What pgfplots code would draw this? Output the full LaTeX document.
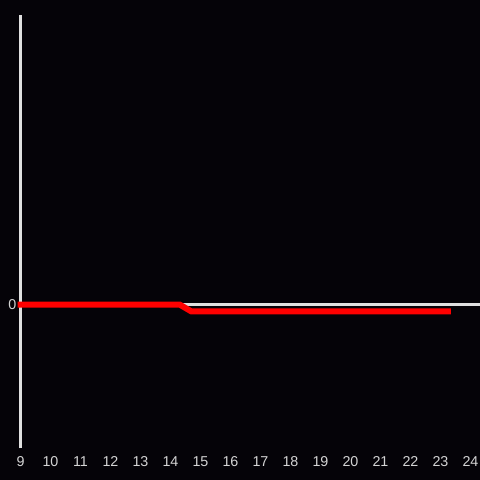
\documentclass[border=0pt]{standalone}
\usepackage{fontspec}
\setmainfont{Liberation Sans}
\usepackage{pgfplots}
\pgfplotsset{compat=1.18}
\definecolor{bgc}{RGB}{5,3,8}
\definecolor{axc}{RGB}{224,224,224}
\definecolor{txc}{RGB}{212,212,212}
\begin{document}
\begin{tikzpicture}
\fill[bgc] (0,0) rectangle (480pt,480pt);
\begin{axis}[
  at={(20.5pt,31.5pt)}, anchor=south west,
  scale only axis, width=459.5pt, height=433pt,
  xmin=9, xmax=24.317, ymin=-1, ymax=2.007,
  clip=false,
  axis x line*=bottom, x axis line style={draw=none},
  axis y line*=left, y axis line style={draw=axc, line width=3pt, -},
  xtick={9,10,...,24}, ytick={0},
  major tick length=0pt, tick style={draw=none},
  tick label style={font=\fontsize{14.3}{16}\selectfont, text=txc},
  xticklabel style={anchor=center, yshift=-13pt},
  yticklabel style={anchor=east, inner sep=0pt, xshift=-4pt},
  /pgf/number format/assume math mode=true,
]
\addplot[axc, line width=3pt] coordinates {(9,0) (24.317,0)};
\addplot[red, line width=6pt] coordinates {(8.9,0) (14.3,0) (14.7,-0.0486) (23.35,-0.0486)};
\end{axis}
\pgfresetboundingbox
\path (0,0) rectangle (480pt,480pt);
\end{tikzpicture}
\end{document}
